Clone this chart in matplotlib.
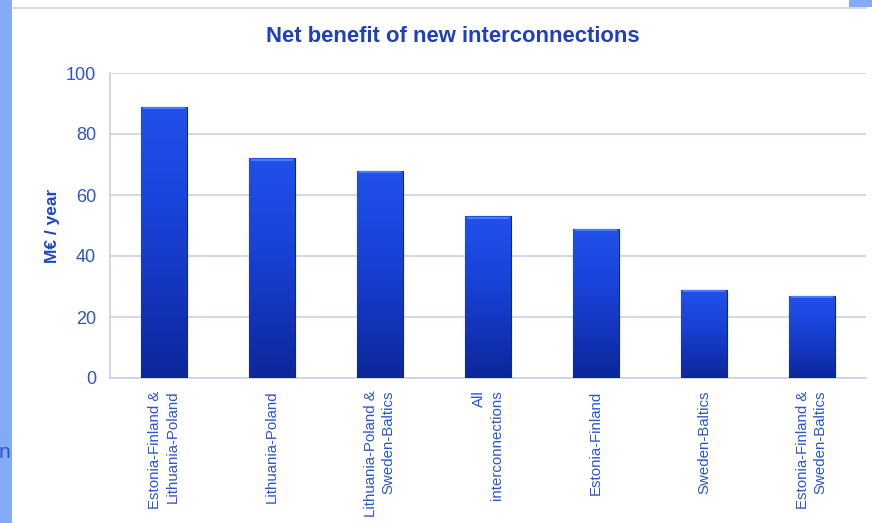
import matplotlib.pyplot as plt
import numpy as np
from matplotlib.colors import LinearSegmentedColormap
from matplotlib.patches import Rectangle

plt.rcParams['font.family'] = ['Liberation Sans', 'DejaVu Sans']

links = ['Estonia-Finland &\nLithuania-Poland', 'Lithuania-Poland',
         'Lithuania-Poland &\nSweden-Baltics', 'All\ninterconnections',
         'Estonia-Finland', 'Sweden-Baltics', 'Estonia-Finland &\nSweden-Baltics']
benefit = [89, 72, 68, 53, 49, 29, 27]
yticks = [0, 20, 40, 60, 80, 100]

fig = plt.figure(figsize=(8.72, 5.23), dpi=100)
fig.patch.set_facecolor('white')

# slide decoration around the chart
fig.patches.append(Rectangle((0, 0), 12/872, 1, transform=fig.transFigure,
                             facecolor='#82aaf5', edgecolor='none', zorder=0))
fig.patches.append(Rectangle((849/872, 1 - 7/523), 23/872, 7/523, transform=fig.transFigure,
                             facecolor='#82aaf5', edgecolor='none', zorder=0))
fig.lines.append(plt.Line2D([12/872, 866/872], [1 - 7.5/523, 1 - 7.5/523],
                            transform=fig.transFigure, color='#cfd0e4', lw=1.2))
fig.text(-0.002, 1 - 452/523, 'n', color='#2a55d0', fontsize=15, va='center', ha='left')

ax = fig.add_axes([110/872, 1 - 378/523, 756/872, 305/523])
x = np.arange(len(links))
bars = ax.bar(x, benefit, width=0.42, color='#1a44d8', edgecolor='#0c2690',
              linewidth=0.8, zorder=3)

# vertical shading on each bar
cmap = LinearSegmentedColormap.from_list('barfade', ['#0c279a', '#1436be', '#1a45dc', '#2150ea'])
grad = np.linspace(0, 1, 256).reshape(-1, 1)
for b in bars:
    x0 = b.get_x()
    w = b.get_width()
    h = b.get_height()
    im = ax.imshow(grad, extent=[x0, x0 + w, 0, h], origin='lower', aspect='auto',
                   cmap=cmap, zorder=3.5)
    im.set_clip_path(b)
    ax.plot([x0 + 0.02, x0 + w - 0.02], [h - 0.6, h - 0.6], color='#4a78ff', lw=1.5,
            zorder=4, solid_capstyle='butt')

ax.set_xlim(-0.5, len(links) - 0.5)
ax.set_ylim(0, 100)
ax.set_yticks(yticks)
ax.set_yticklabels([str(t) for t in yticks], fontsize=13, color='#2f55c4')
ax.set_xticks(x)
ax.set_xticklabels(links, rotation=90, fontsize=10.8, color='#2a55d0',
                   ha='center', va='top', multialignment='right', linespacing=1.3)
ax.tick_params(axis='y', length=0, pad=10)
ax.tick_params(axis='x', length=0, pad=9)
ax.grid(axis='y', color='#cdcde8', lw=1.2, zorder=0)
for s in ['top', 'right']:
    ax.spines[s].set_visible(False)
for s in ['left', 'bottom']:
    ax.spines[s].set_color('#cdcde8')
    ax.spines[s].set_linewidth(1.2)

ax.set_ylabel('M€ / year', fontsize=12.5, fontweight='bold', color='#1f46c0', labelpad=4)
fig.text(453/872, 1 - 37/523, 'Net benefit of new interconnections', ha='center', va='center',
         fontsize=15.8, fontweight='bold', color='#1e3fbe')

fig.savefig('out.png', dpi=100)
